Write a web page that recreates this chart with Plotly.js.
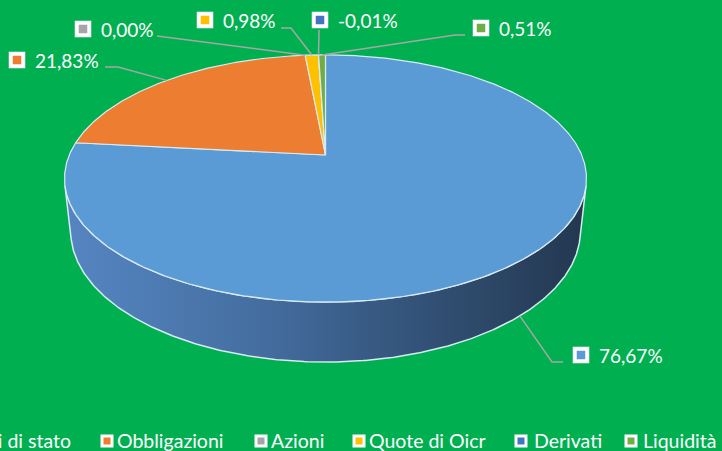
<!DOCTYPE html>
<html><head><meta charset="utf-8">
<script src="https://cdn.plot.ly/plotly-3.0.1.min.js"></script>
<style>html,body{margin:0;padding:0;background:#00b050;overflow:hidden}</style>
</head><body><div id="chart" style="width:722px;height:451px"></div>
<script>
// ---- data ----
const categories = ['Titoli di stato','Obbligazioni','Azioni','Quote di Oicr','Derivati','Liquidità'];
const values = [76.67, 21.83, 0.00, 0.98, -0.01, 0.51];
const colors = ['#5b9bd5','#ed7d31','#a5a5a5','#ffc000','#4472c4','#70ad47'];
const labelText = values.map(v => v.toFixed(2).replace('.', ',') + '%');

// ---- 3D pie projection ----
const CX = 325.5, CY = 155, F = 1194, D = 4.66, PHI = Math.asin(0.465), H = 0.2355;
function proj(theta, y) {
  const t = theta * Math.PI / 180, X = Math.sin(t), z = Math.cos(t);
  const Yc = z * Math.sin(PHI) + y * Math.cos(PHI);
  const Zc = z * Math.cos(PHI) - y * Math.sin(PHI);
  return [CX + F * X / (D + Zc), CY - F * Yc / (D + Zc)];
}
const tangentDeg = Math.acos(-1 / (D * Math.cos(PHI))) * 180 / Math.PI;
const total = values.reduce((s, v) => s + Math.abs(v), 0);
const slices = [];
let acc = 0;
values.forEach((v, i) => {
  const a0 = acc / total * 360; acc += Math.abs(v);
  const a1 = acc / total * 360;
  slices.push({a0, a1, mid: (a0 + a1) / 2});
});
function arc(a, b, y) {
  const pts = []; const n = Math.max(2, Math.ceil(Math.abs(b - a) / 0.5));
  for (let k = 0; k <= n; k++) pts.push(proj(a + (b - a) * k / n, y));
  return pts;
}
const edge = '#d8ebf2';
const traces = [];
const wallScales = [
  [[0, '#5585c2'], [0.35, '#4670a3'], [0.6, '#375982'], [1, '#23374f']],
  [[0, '#c0652a'], [1, '#6f3a16']],
  [[0, '#8a8a8a'], [1, '#4a4a4a']],
  [[0, '#d4a000'], [1, '#7a5c00']],
  [[0, '#385ea3'], [1, '#1f355c']],
  [[0, '#5d9039'], [1, '#33501f']]
];
// outer wall (front visible part)
slices.forEach((s, i) => {
  const lo = Math.max(s.a0, tangentDeg), hi = Math.min(s.a1, 360 - tangentDeg);
  if (hi <= lo) return;
  const top = arc(lo, hi, 0), bot = arc(hi, lo, -H);
  const pts = top.concat(bot); pts.push(top[0]);
  traces.push({type: 'scatter', mode: 'lines', x: pts.map(p => p[0]), y: pts.map(p => p[1]),
    fill: 'toself', fillgradient: {type: 'horizontal', colorscale: wallScales[i]},
    line: {color: edge, width: 1.5}, hoverinfo: 'skip'});
});
// top faces
const center = [CX, CY];
slices.forEach((s, i) => {
  if (s.a1 - s.a0 <= 0) return;
  const pts = [center].concat(arc(s.a0, s.a1, 0)); pts.push(center);
  traces.push({type: 'scatter', mode: 'lines', x: pts.map(p => p[0]), y: pts.map(p => p[1]),
    fill: 'toself', fillcolor: colors[i], line: {color: edge, width: 1.2}, hoverinfo: 'skip'});
});
// ---- data labels (layout positions) ----
const labelPos = [[581, 355], [17, 60], [83, 29], [205, 20], [320, 20], [481, 28]];
const leaderBends = [
  [[552, 362], [563, 362]],
  [[118, 67], [105, 67]],
  [[162, 36], [157, 36]],
  [[291, 28], [281, 28]],
  [[319, 30]],
  [[455, 35], [465, 35]]
];
slices.forEach((s, i) => {
  const anchor = i === 0 ? proj(s.mid, -H) : proj(s.mid, 0);
  const pts = [anchor].concat(leaderBends[i]);
  traces.push({type: 'scatter', mode: 'lines', x: pts.map(p => p[0]), y: pts.map(p => p[1]),
    line: {color: '#a6a6a6', width: 1.5}, hoverinfo: 'skip'});
});
traces.push({type: 'scatter', mode: 'markers', x: labelPos.map(p => p[0]), y: labelPos.map(p => p[1]),
  marker: {symbol: 'square', size: 12.5, color: colors, line: {color: '#ffffff', width: 4}},
  hoverinfo: 'skip', cliponaxis: false});
const annotations = labelPos.map((p, i) => ({
  x: p[0] + 16, y: p[1], xref: 'x', yref: 'y', text: labelText[i], showarrow: false,
  xanchor: 'left', yanchor: 'middle', font: {family: 'Lato, sans-serif', size: 19, color: '#ffffff'}
}));
// ---- legend (manual) ----
const legendMarkerX = [-20, 107, 261, 359, 521, 631];
const legendTextX = [73, 115, 269, 367, 532, 641];
const legendY = 441;
traces.push({type: 'scatter', mode: 'markers', x: legendMarkerX, y: legendMarkerX.map(() => legendY),
  marker: {symbol: 'square', size: 10, color: colors, line: {color: '#ffffff', width: 3}},
  hoverinfo: 'skip', cliponaxis: false});
categories.forEach((c, i) => {
  annotations.push({x: legendTextX[i], y: legendY - 1, xref: 'x', yref: 'y', text: c,
    showarrow: false, xanchor: i === 0 ? 'right' : 'left', yanchor: 'middle',
    font: {family: 'Lato, sans-serif', size: 19.5, color: '#ffffff'}});
});
const layout = {
  width: 722, height: 451, margin: {l: 0, r: 0, t: 0, b: 0},
  paper_bgcolor: '#00b050', plot_bgcolor: '#00b050', showlegend: false,
  xaxis: {range: [0, 722], visible: false, fixedrange: true},
  yaxis: {range: [451, 0], visible: false, fixedrange: true},
  annotations: annotations
};
Plotly.newPlot('chart', traces, layout, {displayModeBar: false, staticPlot: true});
</script></body></html>
